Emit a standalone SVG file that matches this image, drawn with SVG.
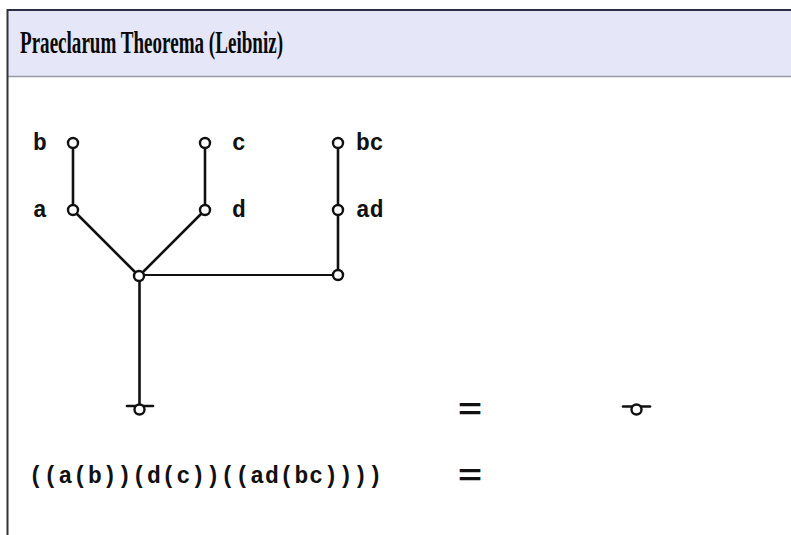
<svg xmlns="http://www.w3.org/2000/svg" width="791" height="535" viewBox="0 0 791 535">
<style>
.lbl{font-family:"Liberation Mono","Courier New",monospace;font-weight:bold;font-size:23px;fill:#111}
.eq{font-family:"Liberation Sans",Arial,sans-serif;font-weight:bold;font-size:30px;fill:#111}
.edge{stroke:#111;stroke-width:2.6;fill:none;stroke-linecap:round}
.thin{stroke:#111;stroke-width:1.8;fill:none}
.node{fill:#fff;stroke:#111;stroke-width:2.4}
</style>
<rect x="0" y="0" width="791" height="535" fill="#fff"/>
<g id="frame">
<rect x="7" y="10" width="784" height="66" fill="#e5e6f8"/>
<line x1="7" y1="76.5" x2="791" y2="76.5" stroke="#9a9aa4" stroke-width="1.5"/>
<line x1="7" y1="10" x2="791" y2="10" stroke="#2a2d45" stroke-width="2"/>
<line x1="7.5" y1="9" x2="7.5" y2="535" stroke="#333" stroke-width="2"/>
<text x="20" y="53" font-family="'Liberation Serif','Times New Roman',serif" font-weight="bold" font-size="31" fill="#0a0a0a" textLength="263" lengthAdjust="spacingAndGlyphs">Praeclarum Theorema (Leibniz)</text>
</g>
<g id="connectors">
<line class="edge" x1="73" y1="143" x2="73" y2="210"/>
<line class="edge" x1="205" y1="143" x2="205" y2="210"/>
<line class="edge" x1="338" y1="143" x2="338" y2="275"/>
<line class="edge" x1="73" y1="210" x2="139" y2="276"/>
<line class="edge" x1="205" y1="210" x2="139" y2="276"/>
<line class="thin" x1="139" y1="275" x2="338" y2="275"/>
<line class="edge" x1="139.5" y1="276" x2="139.5" y2="405"/>
<line class="edge" x1="127" y1="406" x2="153" y2="406"/>
<line class="edge" x1="623" y1="406.5" x2="650" y2="406.5"/>
</g>
<g id="node-b"><circle class="node" cx="73" cy="143" r="5"/><text class="lbl" x="33" y="150">b</text></g>
<g id="node-a"><circle class="node" cx="73" cy="210" r="5"/><text class="lbl" x="33" y="217">a</text></g>
<g id="node-c"><circle class="node" cx="205" cy="143" r="5"/><text class="lbl" x="232" y="150">c</text></g>
<g id="node-d"><circle class="node" cx="205" cy="210" r="5"/><text class="lbl" x="232" y="217">d</text></g>
<g id="node-bc"><circle class="node" cx="338" cy="143" r="5"/><text class="lbl" x="356" y="150">bc</text></g>
<g id="node-ad"><circle class="node" cx="338" cy="210" r="5"/><text class="lbl" x="356" y="217">ad</text></g>
<g id="node-junction"><circle class="node" cx="139" cy="276" r="5"/></g>
<g id="node-right"><circle class="node" cx="338" cy="275" r="5"/></g>
<g id="node-root"><circle class="node" cx="139.5" cy="409.5" r="5"/></g>
<g id="node-result"><circle class="node" cx="636.5" cy="409.5" r="5"/></g>
<g id="equations">
<text class="eq" x="458" y="419" textLength="24" lengthAdjust="spacingAndGlyphs">=</text>
<text class="eq" x="458" y="485" textLength="24" lengthAdjust="spacingAndGlyphs">=</text>
<text class="lbl" x="29" y="483" textLength="353" lengthAdjust="spacing">((a(b))(d(c))((ad(bc))))</text>
</g>
</svg>
